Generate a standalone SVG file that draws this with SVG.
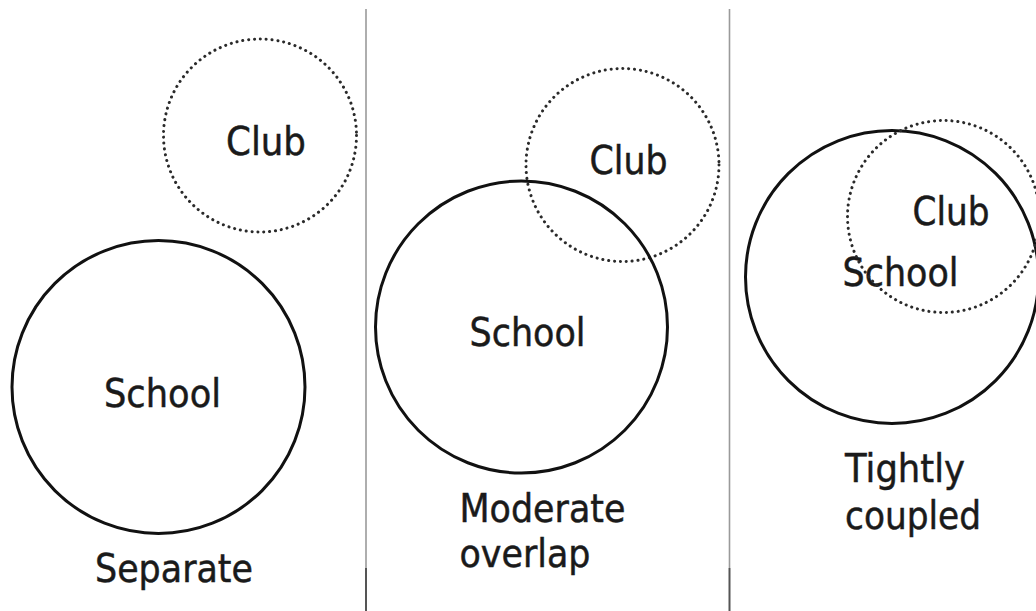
<svg xmlns="http://www.w3.org/2000/svg" width="1036" height="611" viewBox="0 0 1036 611">
  <style>
    .school { fill: none; stroke: #111; stroke-width: 3; }
    .club { fill: none; stroke: #2a2a2a; stroke-width: 3; stroke-dasharray: 0.1 5.8; stroke-linecap: round; }
    .lbl { font-family: "DejaVu Sans", "Liberation Sans", sans-serif; font-size: 38.5px; fill: #1a1a1a; stroke: #1a1a1a; stroke-width: 0.5; }
    .divider { stroke: #9a9a9a; stroke-width: 1.6; }
    .divider-low { stroke: #555; stroke-width: 2; }
  </style>
  <rect width="1036" height="611" fill="#fff"/>

  <!-- panel dividers -->
  <g id="dividers">
    <line class="divider" x1="366" y1="9" x2="366" y2="568"/>
    <line class="divider-low" x1="366" y1="568" x2="366" y2="611"/>
    <line class="divider" x1="729.5" y1="9" x2="729.5" y2="568"/>
    <line class="divider-low" x1="729.5" y1="568" x2="729.5" y2="611"/>
  </g>

  <!-- Separate -->
  <g id="separate">
    <g id="sep-club">
      <circle class="club" cx="260" cy="135.5" r="96.5"/>
      <text class="lbl" x="226" y="155" textLength="80" lengthAdjust="spacingAndGlyphs">Club</text>
    </g>
    <g id="sep-school">
      <circle class="school" cx="158.5" cy="387" r="146.5"/>
      <text class="lbl" x="104" y="406.5" textLength="117" lengthAdjust="spacingAndGlyphs">School</text>
    </g>
    <text class="lbl" x="95" y="581.5" textLength="158" lengthAdjust="spacingAndGlyphs">Separate</text>
  </g>

  <!-- Moderate overlap -->
  <g id="moderate">
    <g id="mod-club">
      <circle class="club" cx="622.5" cy="165" r="96.5"/>
      <text class="lbl" x="589.5" y="174" textLength="78" lengthAdjust="spacingAndGlyphs">Club</text>
    </g>
    <g id="mod-school">
      <circle class="school" cx="521.5" cy="327" r="146"/>
      <text class="lbl" x="469.5" y="345.5" textLength="116" lengthAdjust="spacingAndGlyphs">School</text>
    </g>
    <text class="lbl" x="459.5" y="521.5" textLength="166" lengthAdjust="spacingAndGlyphs">Moderate</text>
    <text class="lbl" x="459.5" y="567" textLength="131" lengthAdjust="spacingAndGlyphs">overlap</text>
  </g>

  <!-- Tightly coupled -->
  <g id="tight">
    <g id="tight-school">
      <circle class="school" cx="892" cy="277" r="146.5"/>
      <text class="lbl" x="842.5" y="285.5" textLength="116" lengthAdjust="spacingAndGlyphs">School</text>
    </g>
    <g id="tight-club">
      <circle class="club" cx="943.5" cy="216.5" r="96"/>
      <text class="lbl" x="912.5" y="225" textLength="77" lengthAdjust="spacingAndGlyphs">Club</text>
    </g>
    <text class="lbl" x="845" y="481.5" textLength="120" lengthAdjust="spacingAndGlyphs">Tightly</text>
    <text class="lbl" x="845" y="529" textLength="136" lengthAdjust="spacingAndGlyphs">coupled</text>
  </g>
</svg>
